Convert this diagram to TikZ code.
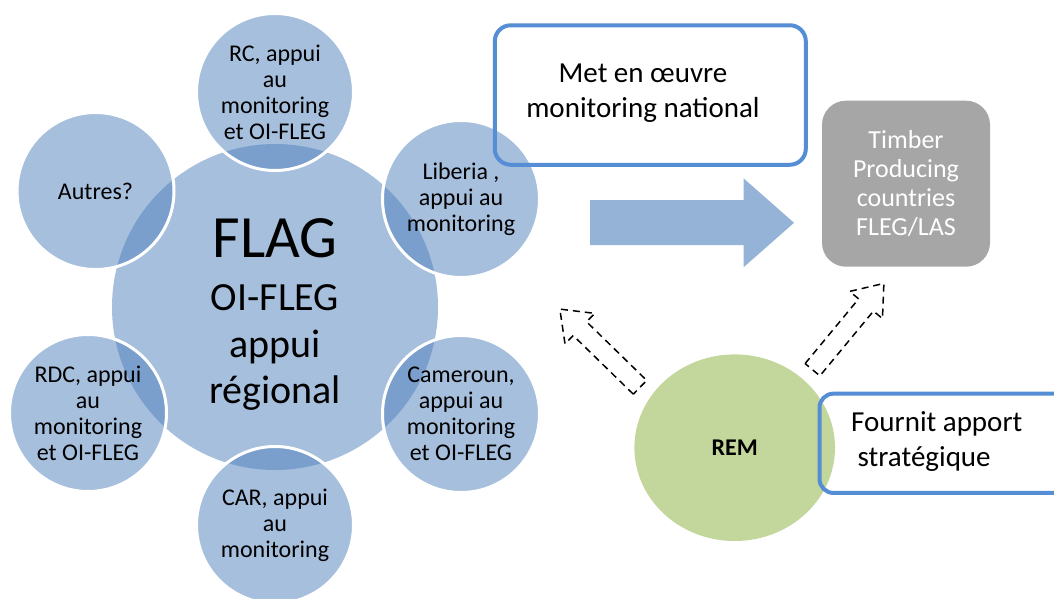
\documentclass[tikz,border=0pt]{standalone}
\usepackage{fontspec}
\setmainfont{Carlito}
\usetikzlibrary{shapes.geometric}
\definecolor{accent}{HTML}{4F81BD}
\definecolor{boxblue}{HTML}{558ED5}
\definecolor{graybox}{HTML}{A6A6A6}
\definecolor{remgreen}{HTML}{C3D69B}
\definecolor{arrowblue}{HTML}{95B3D7}
\begin{document}
\begin{tikzpicture}[x=1pt,y=-1pt,
  bigc/.style={circle, fill=accent, fill opacity=0.5, minimum size=326pt, inner sep=0pt},
  smallc/.style={circle, fill=accent, fill opacity=0.5, text opacity=1, draw=white, draw opacity=1,
    line width=3pt, minimum size=157pt, inner sep=0pt, align=center, font=\fontsize{24}{26}\selectfont},
  bigtxt/.style={anchor=base, inner sep=0pt, font=\fontsize{40}{46}\selectfont},
  bluebox/.style={rectangle, draw=boxblue, line width=4pt, rounded corners=16pt, inner sep=0pt},
  txt29/.style={inner sep=0pt, font=\fontsize{29}{35}\selectfont},
  dasharr/.pic={\draw[black, line width=1.5pt, dash pattern=on 7pt off 5pt, line join=miter]
    (0,-9.6) -- (84,-9.6) -- (84,-21.3) -- (112,0) -- (84,21.3) -- (84,9.6) -- (0,9.6) -- cycle;}
]
\useasboundingbox (0,0) rectangle (1054,598);
\clip (0,0) rectangle (1054,598);
\fill[white] (0,0) rectangle (1054,598);

% central circle
\node[bigc] (flag) at (275,307) {};

% satellite circles
\node[smallc] (rc) at (275,92) {RC, appui\\au\\monitoring\\et OI-FLEG};
\node[smallc] (lib) at (461,199) {Liberia ,\\appui au\\monitoring};
\node[smallc] (cam) at (461,414) {Cameroun,\\appui au\\monitoring\\et OI-FLEG};
\node[smallc] (car) at (275,525) {CAR, appui\\au\\monitoring};
\node[smallc] (rdc) at (88,413) {RDC, appui\\au\\monitoring\\et OI-FLEG};
\node[smallc] (aut) at (95.5,191) {Autres?};

% central text
\node[anchor=base, inner sep=0pt, font=\fontsize{60}{72}\selectfont] (t1) at (275,257) {FLAG};
\node[bigtxt] (t2) at (275,310) {OI-FLEG};
\node[bigtxt] (t3) at (275,357) {appui};
\node[bigtxt] (t4) at (275,403) {régional};

% big arrow
\fill[arrowblue] (590,200) -- (743.5,200) -- (743.5,178.3) -- (794,222.8) -- (743.5,267.3)
  -- (743.5,245) -- (590,245) -- cycle;

% boxes
\node[bluebox, minimum width=311pt, minimum height=139.5pt] (metbox) at (650.3,95) {};
\node[txt29, align=center] (met) at (643,93.4) {Met en œuvre\\monitoring national};

\node[rectangle, fill=graybox, rounded corners=24pt, minimum width=168pt, minimum height=166pt,
  inner sep=0pt, text=white, align=center, font=\fontsize{26}{29}\selectfont] (tp) at (906,183.7)
  {Timber\\Producing\\countries\\FLEG/LAS};

\node[ellipse, fill=remgreen, minimum width=200.6pt, minimum height=186.6pt, inner sep=0pt,
  font=\fontsize{24}{29}\selectfont\bfseries] (rem) at (734.7,447.7) {REM};

\node[bluebox, minimum width=265pt, minimum height=99.3pt, rounded corners=14pt] (fbox) at (952,443.3) {};
\node[txt29, anchor=base west] (f1) at (851,431.7) {Fournit apport};
\node[txt29, anchor=base west] (f2) at (857.5,466.7) {stratégique};

% dashed block arrows
\pic[rotate=135.7] at (640,387.3) {dasharr};
\pic[rotate=50.4] at (812.5,369.7) {dasharr};
\end{tikzpicture}
\end{document}
